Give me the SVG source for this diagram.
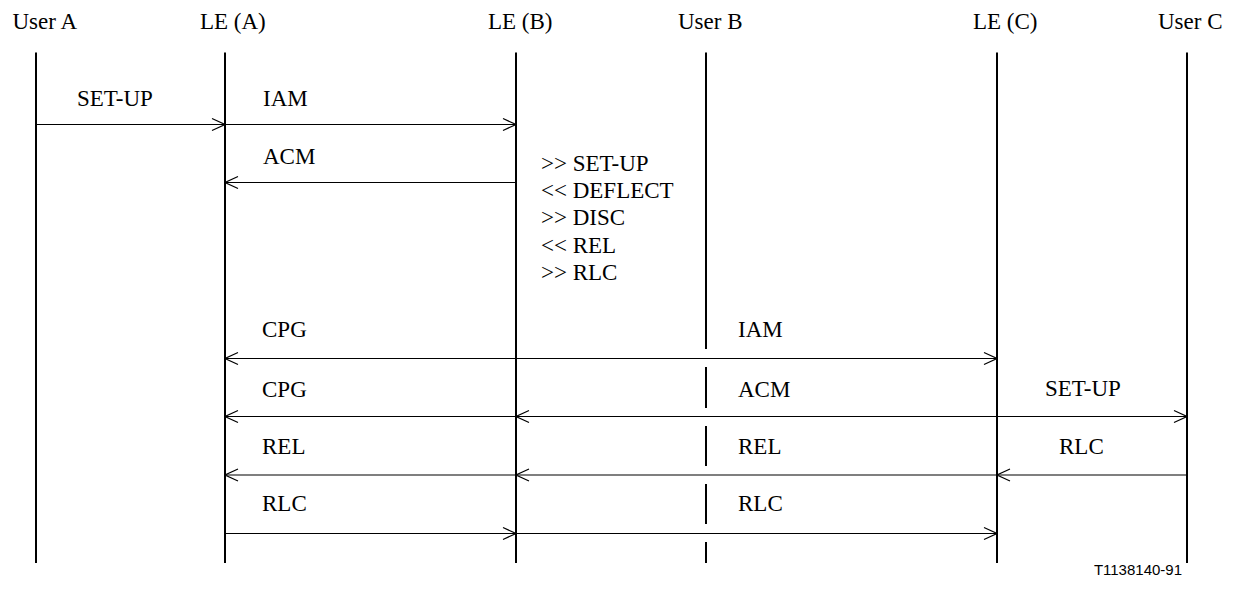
<svg xmlns="http://www.w3.org/2000/svg" width="1235" height="592" viewBox="0 0 1235 592">
<style>
text{font-family:"Liberation Serif","Times New Roman",serif;font-size:23px;fill:#000}
.fig{font-family:"Liberation Sans",Arial,sans-serif;font-size:15px}
.life{stroke:#000;stroke-width:2;fill:none}
.msg{stroke:#000;stroke-width:1.2;fill:none;marker-end:url(#ah)}
.bi{stroke:#000;stroke-width:1.2;fill:none;marker-end:url(#ah);marker-start:url(#ahs)}
</style>
<defs>
<marker id="ah" markerUnits="userSpaceOnUse" markerWidth="16" markerHeight="16" viewBox="-15 -8 16 16" refX="0" refY="0" orient="auto">
<path d="M-13,-6 L0,0 L-13,6" fill="none" stroke="#000" stroke-width="1.2"/>
</marker>
<marker id="ahs" markerUnits="userSpaceOnUse" markerWidth="16" markerHeight="16" viewBox="-15 -8 16 16" refX="0" refY="0" orient="auto-start-reverse">
<path d="M-13,-6 L0,0 L-13,6" fill="none" stroke="#000" stroke-width="1.2"/>
</marker>
</defs>
<rect width="1235" height="592" fill="#fff"/>
<g id="userA"><text x="12.5" y="29">User A</text><line class="life" x1="36" y1="52.5" x2="36" y2="563"/></g>
<g id="leA"><text x="200" y="29">LE (A)</text><line class="life" x1="225" y1="52.5" x2="225" y2="563"/></g>
<g id="leB"><text x="488" y="29">LE (B)</text><line class="life" x1="516" y1="52.5" x2="516" y2="563"/></g>
<g id="userB"><text x="678" y="29">User B</text><path class="life" d="M706,52.5 V349 M706,367 V408 M706,426 V466 M706,484 V524 M706,542 V563"/></g>
<g id="leC"><text x="973" y="29">LE (C)</text><line class="life" x1="997" y1="52.5" x2="997" y2="563"/></g>
<g id="userC"><text x="1158" y="29">User C</text><line class="life" x1="1187" y1="52.5" x2="1187" y2="563"/></g>
<g id="note">
<text x="541" y="170.5">&gt;&gt; SET-UP</text>
<text x="541" y="197.5">&lt;&lt; DEFLECT</text>
<text x="541" y="225">&gt;&gt; DISC</text>
<text x="541" y="252.5">&lt;&lt; REL</text>
<text x="541" y="280">&gt;&gt; RLC</text>
</g>
<g id="connectors">
<line class="msg" x1="36" y1="124.5" x2="225" y2="124.5"/>
<line class="msg" x1="225" y1="124.5" x2="516" y2="124.5"/>
<line class="msg" x1="516" y1="182.5" x2="225" y2="182.5"/>
<line class="bi" x1="225" y1="358.5" x2="997" y2="358.5"/>
<line class="msg" x1="516" y1="416.5" x2="225" y2="416.5"/>
<line class="msg" x1="997" y1="416.5" x2="516" y2="416.5"/>
<line class="msg" x1="997" y1="416.5" x2="1187" y2="416.5"/>
<line class="msg" x1="516" y1="475" x2="225" y2="475"/>
<line class="msg" x1="997" y1="475" x2="516" y2="475"/>
<line class="msg" x1="1187" y1="475" x2="997" y2="475"/>
<line class="msg" x1="225" y1="533.5" x2="516" y2="533.5"/>
<line class="msg" x1="516" y1="533.5" x2="997" y2="533.5"/>
</g>
<g id="labels">
<text x="77" y="106">SET-UP</text>
<text x="263" y="106">IAM</text>
<text x="263" y="164">ACM</text>
<text x="262" y="337">CPG</text>
<text x="738" y="337">IAM</text>
<text x="262" y="397">CPG</text>
<text x="738" y="397">ACM</text>
<text x="1045" y="396">SET-UP</text>
<text x="262" y="454">REL</text>
<text x="738" y="454">REL</text>
<text x="1059" y="454">RLC</text>
<text x="262" y="511">RLC</text>
<text x="738" y="511">RLC</text>
</g>
<text class="fig" x="1182" y="575" text-anchor="end">T1138140-91</text>
</svg>
